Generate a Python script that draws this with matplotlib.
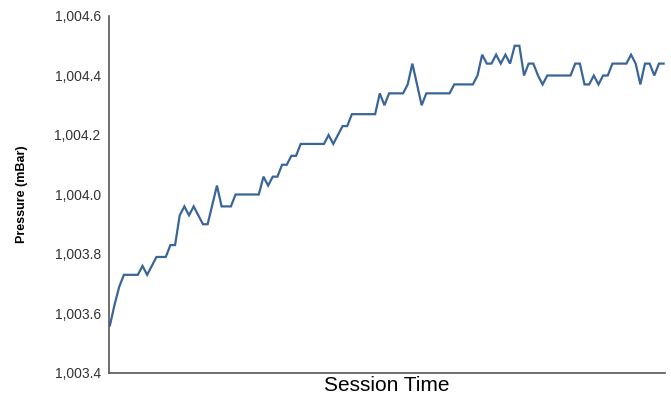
import numpy as np
import matplotlib
matplotlib.use("Agg")
import matplotlib.pyplot as plt
from matplotlib.ticker import FuncFormatter

# pressure readings across the session (mBar)
pressure = [
    1003.56, 1003.63, 1003.69, 1003.73, 1003.73, 1003.73, 1003.73, 1003.76, 1003.73, 1003.76,
    1003.79, 1003.79, 1003.79, 1003.83, 1003.83, 1003.93, 1003.96, 1003.93, 1003.96, 1003.93,
    1003.90, 1003.90, 1003.965, 1004.03, 1003.96, 1003.96, 1003.96, 1004.00, 1004.00, 1004.00,
    1004.00, 1004.00, 1004.00, 1004.06, 1004.03, 1004.06, 1004.06, 1004.10, 1004.10, 1004.13,
    1004.13, 1004.17, 1004.17, 1004.17, 1004.17, 1004.17, 1004.17, 1004.20, 1004.17, 1004.20,
    1004.23, 1004.23, 1004.27, 1004.27, 1004.27, 1004.27, 1004.27, 1004.27, 1004.34, 1004.30,
    1004.34, 1004.34, 1004.34, 1004.34, 1004.37, 1004.44, 1004.37, 1004.30, 1004.34, 1004.34,
    1004.34, 1004.34, 1004.34, 1004.34, 1004.37, 1004.37, 1004.37, 1004.37, 1004.37, 1004.40,
    1004.47, 1004.44, 1004.44, 1004.47, 1004.44, 1004.47, 1004.44, 1004.50, 1004.50, 1004.40,
    1004.44, 1004.44, 1004.40, 1004.37, 1004.40, 1004.40, 1004.40, 1004.40, 1004.40, 1004.40,
    1004.44, 1004.44, 1004.37, 1004.37, 1004.40, 1004.37, 1004.40, 1004.40, 1004.44, 1004.44,
    1004.44, 1004.44, 1004.47, 1004.44, 1004.37, 1004.44, 1004.44, 1004.40, 1004.44, 1004.44,
]
y_ticks = [1003.4, 1003.6, 1003.8, 1004.0, 1004.2, 1004.4, 1004.6]

plt.rcParams['font.family'] = ['Liberation Sans', 'DejaVu Sans']

fig = plt.figure(figsize=(6.71, 3.98), dpi=100)
ax = fig.add_axes([109 / 671, 1 - 373 / 398, 556 / 671, 357 / 398])

t = np.arange(len(pressure))
ax.plot(t, pressure, color='#3a6598', linewidth=1.6, solid_joinstyle='miter')

ax.set_xlim(-0.2, 119.3)
ax.set_ylim(1003.4, 1004.6)
ax.set_yticks(y_ticks)
ax.yaxis.set_major_formatter(FuncFormatter(lambda v, p: f"{v:,.1f}"))
ax.set_xticks([])
ax.tick_params(axis='y', length=0, pad=6, labelsize=10, labelcolor='#333333')

for side in ['top', 'right']:
    ax.spines[side].set_visible(False)
for side in ['left', 'bottom']:
    ax.spines[side].set_color('#555555')
    ax.spines[side].set_linewidth(1.2)

ax.set_ylabel('Pressure (mBar)', fontsize=9, fontweight='bold', labelpad=19)
ax.set_xlabel('Session Time', fontsize=15, labelpad=2)

fig.savefig('out.png', dpi=100)
